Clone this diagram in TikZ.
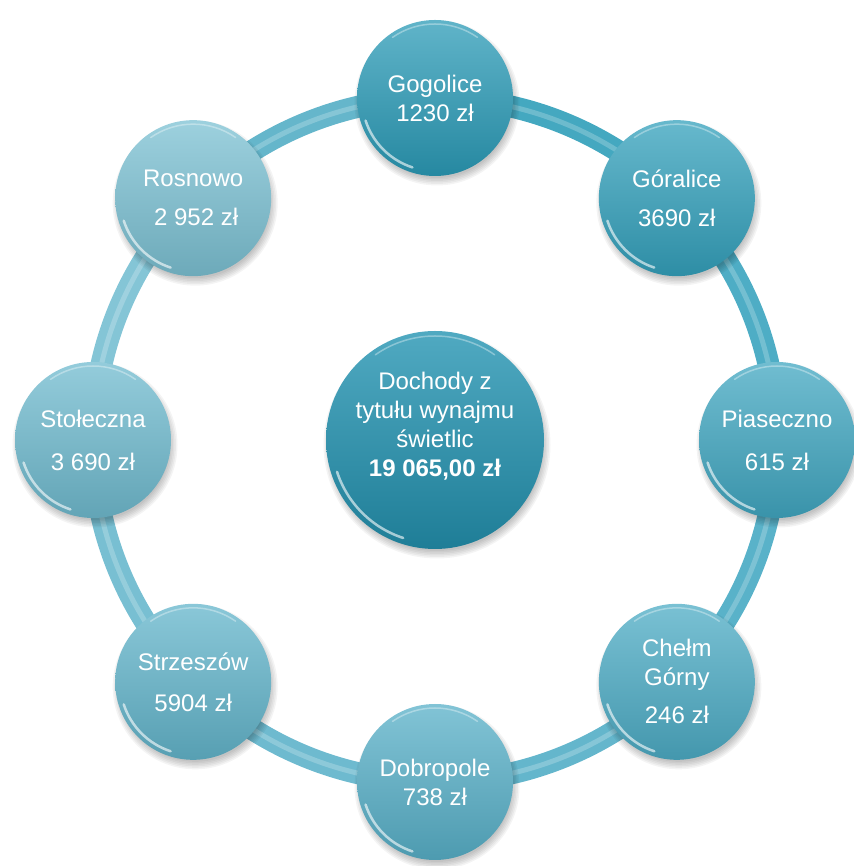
\documentclass[tikz,border=0pt]{standalone}
\usepackage{fontspec}
\setmainfont{Liberation Sans}
\usetikzlibrary{calc}
\definecolor{colg}{HTML}{2B9BB7}
\definecolor{colgr}{HTML}{34A1BC}
\definecolor{colp}{HTML}{41A7C1}
\definecolor{colch}{HTML}{4DACC5}
\definecolor{cold}{HTML}{58B0C8}
\definecolor{cols}{HTML}{63B5CB}
\definecolor{colst}{HTML}{70BBCF}
\definecolor{colr}{HTML}{7CC1D3}
\definecolor{colc}{HTML}{2494B2}
\begin{document}
\begin{tikzpicture}[x=1pt,y=1pt,
  sat/.style={circle, minimum size=156pt, inner sep=0pt, text=white, align=center,
    font=\fontsize{24}{29}\selectfont, top color=#1!75!white, bottom color=#1!88!black},
  ringarc/.style={line width=22pt},
  ringhl/.style={line width=5pt, white, opacity=.22},
  shadowc/.style={fill=black, opacity=.045},
  rimhl/.style={white, opacity=.6, line width=2.5pt, line cap=round},
  rimtop/.style={white, opacity=.35, line width=1.5pt, line cap=round},
  ctext/.style={text=white, align=center, font=\fontsize{24}{29}\selectfont}
]
\useasboundingbox (0,0) rectangle (853,866);
\coordinate (c) at (435,426);
\coordinate (pc) at (c);
\foreach \n/\a in {g/90, gr/45, p/0, ch/-45, d/-90, s/-135, st/180, r/135}
  \coordinate (p\n) at ($(c)+(\a:342)$);
% ring arcs between satellite positions
\foreach \n/\m/\a/\b in {g/gr/90/45, gr/p/45/0, p/ch/0/-45, ch/d/-45/-90, d/s/-90/-135, s/st/-135/-180, st/r/180/135, r/g/135/90}{
  \draw[ringarc, draw=col\n!50!col\m!90!white] (p\n) arc[start angle=\a, end angle=\b, radius=342];
  \draw[ringhl] (p\n) arc[start angle=\a, end angle=\b, radius=342];
}
% shadows
\foreach \n/\rr in {g/78, gr/78, p/78, ch/78, d/78, s/78, st/78, r/78, c/109}{
  \foreach \k in {0,1.5,...,7.5}
    \fill[shadowc] ($(p\n)+(2,-5)$) circle (\rr-3+\k);
}
% satellites
\node[sat=colg]  (g)  at (pg)  {Gogolice\\1230 zł};
\node[sat=colgr] (gr) at (pgr) {Góralice\\[10pt]3690 zł};
\node[sat=colp]  (p)  at (pp)  {Piaseczno\\[14pt]615 zł};
\node[sat=colch] (ch) at (pch) {Chełm\\Górny\\[9pt]246 zł};
\node[sat=cold]  (d)  at (pd)  {Dobropole\\738 zł};
\node[sat=cols]  (s)  at (ps)  {Strzeszów\\[12pt]5904 zł};
\node[sat=colst] (st) at (pst) {Stołeczna\\[14pt]3 690 zł};
\node[sat=colr]  (r)  at (pr)  {Rosnowo\\[10pt]\hspace*{6pt}2 952 zł};
% center
\node[circle, minimum size=218pt, inner sep=0pt, top color=colc!80!white, bottom color=colc!85!black] (cc) at (c) {};
\node[ctext] (ct) at ($(c)+(0,14)$) {Dochody z\\tytułu wynajmu\\świetlic\\\textbf{19 065,00 zł}};
% rim highlights
\foreach \n in {g,gr,p,ch,d,s,st,r}{
  \draw[rimhl] ([shift={(198:73)}]\n.center) arc[start angle=198, end angle=252, radius=73];
  \draw[rimtop] ([shift={(55:74)}]\n.center) arc[start angle=55, end angle=125, radius=74];
}
\draw[rimhl] ([shift={(198:103)}]cc.center) arc[start angle=198, end angle=252, radius=103];
\draw[rimtop] ([shift={(55:104)}]cc.center) arc[start angle=55, end angle=125, radius=104];
\end{tikzpicture}
\end{document}
